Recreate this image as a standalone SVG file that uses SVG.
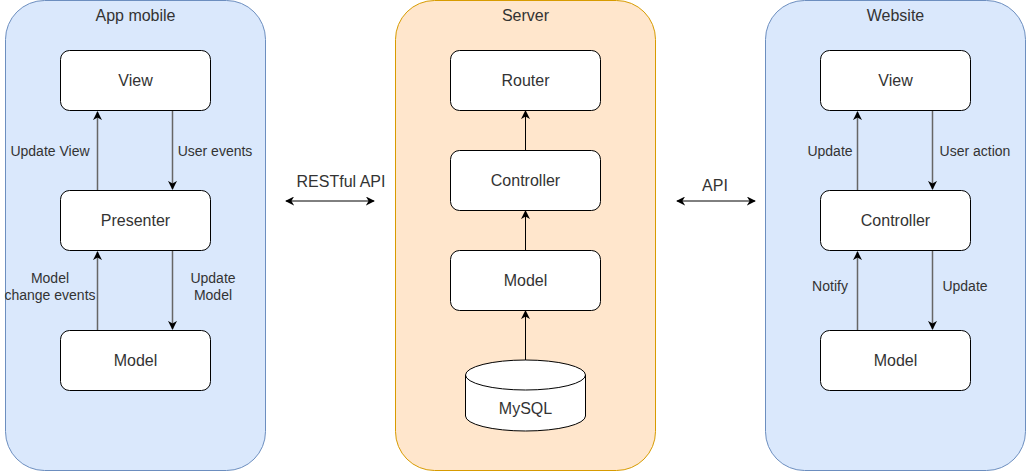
<svg xmlns="http://www.w3.org/2000/svg" width="1026" height="471" viewBox="0 0 1026 471">
<defs>
<style>
.blue{fill:#dae8fc;stroke:#6c8ebf;stroke-width:1}
.orange{fill:#ffe6cc;stroke:#d79b00;stroke-width:1}
.node{fill:#ffffff;stroke:#000000;stroke-width:1}
.t{font-family:"Liberation Sans",Arial,Helvetica,sans-serif;font-size:16px;fill:#333333;text-anchor:middle}
.title{font-family:"Liberation Sans",Arial,Helvetica,sans-serif;font-size:16px;fill:#333333;text-anchor:middle}
.lbl{font-family:"Liberation Sans",Arial,Helvetica,sans-serif;font-size:14px;fill:#333333;text-anchor:middle}
.gray{stroke:#666666;stroke-width:1.5;fill:none}
.blk{stroke:#000000;stroke-width:1;fill:none}
</style>
<marker id="ah" viewBox="0 0 10 10" refX="9" refY="5" markerWidth="9" markerHeight="9" markerUnits="userSpaceOnUse" orient="auto-start-reverse">
<path d="M0,0 L10,5 L0,10 L3,5 Z" fill="#000000"/>
</marker>
</defs>

<g id="app-mobile">
<rect class="blue" x="5.5" y="0.5" width="260" height="470" rx="39" ry="39"/>
<text class="title" x="135.5" y="21">App mobile</text>
</g>
<g id="server">
<rect class="orange" x="395.5" y="0.5" width="260" height="470" rx="39" ry="39"/>
<text class="title" x="525.5" y="21">Server</text>
</g>
<g id="website">
<rect class="blue" x="765.5" y="0.5" width="260" height="470" rx="39" ry="39"/>
<text class="title" x="895.5" y="21">Website</text>
</g>

<g id="connectors">
<line class="gray" x1="97.5" y1="190" x2="97.5" y2="112" marker-end="url(#ah)"/>
<line class="gray" x1="172.5" y1="110" x2="172.5" y2="189" marker-end="url(#ah)"/>
<line class="gray" x1="97.5" y1="330" x2="97.5" y2="252" marker-end="url(#ah)"/>
<line class="gray" x1="172.5" y1="250" x2="172.5" y2="329" marker-end="url(#ah)"/>

<line class="blk" x1="525.5" y1="150" x2="525.5" y2="111" marker-end="url(#ah)"/>
<line class="blk" x1="525.5" y1="250" x2="525.5" y2="211" marker-end="url(#ah)"/>
<line class="blk" x1="525.5" y1="360" x2="525.5" y2="311" marker-end="url(#ah)"/>

<line class="gray" x1="857.5" y1="190" x2="857.5" y2="112" marker-end="url(#ah)"/>
<line class="gray" x1="932.5" y1="110" x2="932.5" y2="189" marker-end="url(#ah)"/>
<line class="gray" x1="857.5" y1="330" x2="857.5" y2="252" marker-end="url(#ah)"/>
<line class="gray" x1="932.5" y1="250" x2="932.5" y2="329" marker-end="url(#ah)"/>

<line class="blk" x1="286" y1="201" x2="374" y2="201" marker-start="url(#ah)" marker-end="url(#ah)"/>
<line class="blk" x1="677" y1="201" x2="755" y2="201" marker-start="url(#ah)" marker-end="url(#ah)"/>

<text class="lbl" x="50" y="156">Update View</text>
<text class="lbl" x="215" y="156">User events</text>
<text class="lbl" x="50" y="283">Model</text>
<text class="lbl" x="50" y="300">change events</text>
<text class="lbl" x="213" y="283">Update</text>
<text class="lbl" x="213" y="300">Model</text>
<text class="t" x="341" y="187">RESTful API</text>
<text class="t" x="715" y="191">API</text>
<text class="lbl" x="830" y="156">Update</text>
<text class="lbl" x="975" y="156">User action</text>
<text class="lbl" x="830" y="291">Notify</text>
<text class="lbl" x="965" y="291">Update</text>
</g>

<g id="am-view"><rect class="node" x="60.5" y="50.5" width="150" height="60" rx="9"/><text class="t" x="135.5" y="86">View</text></g>
<g id="am-presenter"><rect class="node" x="60.5" y="190.5" width="150" height="60" rx="9"/><text class="t" x="135.5" y="226">Presenter</text></g>
<g id="am-model"><rect class="node" x="60.5" y="330.5" width="150" height="60" rx="9"/><text class="t" x="135.5" y="366">Model</text></g>

<g id="srv-router"><rect class="node" x="450.5" y="50.5" width="150" height="60" rx="9"/><text class="t" x="525.5" y="86">Router</text></g>
<g id="srv-controller"><rect class="node" x="450.5" y="150.5" width="150" height="60" rx="9"/><text class="t" x="525.5" y="186">Controller</text></g>
<g id="srv-model"><rect class="node" x="450.5" y="250.5" width="150" height="60" rx="9"/><text class="t" x="525.5" y="286">Model</text></g>
<g id="srv-mysql">
<path class="node" d="M465.5,375 A60,15 0 0 1 585.5,375 L585.5,416 A60,15 0 0 1 465.5,416 Z"/>
<path class="blk" d="M465.5,375 A60,15 0 0 0 585.5,375"/>
<text class="t" x="525.5" y="414">MySQL</text>
</g>

<g id="web-view"><rect class="node" x="820.5" y="50.5" width="150" height="60" rx="9"/><text class="t" x="895.5" y="86">View</text></g>
<g id="web-controller"><rect class="node" x="820.5" y="190.5" width="150" height="60" rx="9"/><text class="t" x="895.5" y="226">Controller</text></g>
<g id="web-model"><rect class="node" x="820.5" y="330.5" width="150" height="60" rx="9"/><text class="t" x="895.5" y="366">Model</text></g>
</svg>
